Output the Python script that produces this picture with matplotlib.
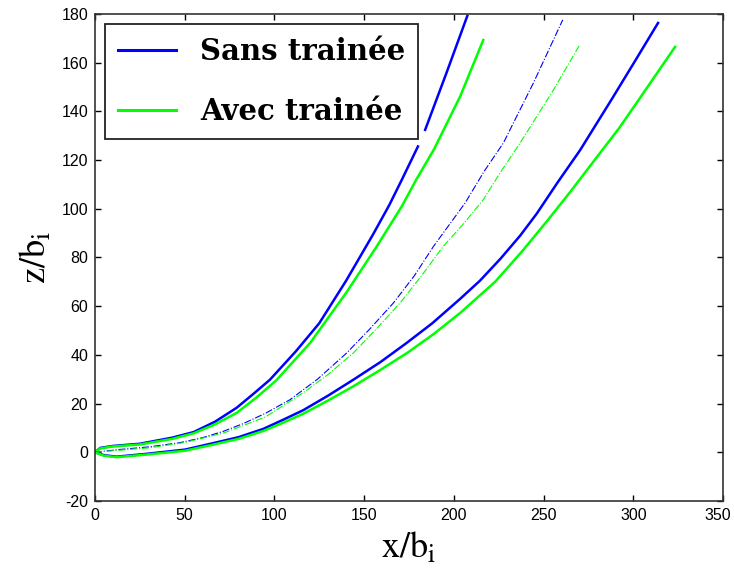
import matplotlib
matplotlib.use('Agg')
import matplotlib.pyplot as plt
import numpy as np

# trajectories (x/b_i, z/b_i)
# sans trainee (blue)
up_sans_x = [0, 3, 10, 25, 43, 55, 67, 79, 88, 97.5, 112, 125, 140, 155, 164, 171, 180, np.nan, 184, 196, 207.5]
up_sans_z = [0, 1.8, 2.6, 3.5, 6, 8.3, 12.6, 18.3, 23.8, 29.8, 41.5, 53, 70.5, 89.5, 101.5, 111.9, 125.6, np.nan, 132.4, 156, 179.2]
mid_sans_x = [0, 13, 30, 47, 60, 71.5, 82.7, 95, 108.7, 124, 140.3, 153, 166.3, 178, 188.6, 198, 206.2, 217, 227.6, 244.3, 260.7]
mid_sans_z = [0, 1.1, 2.2, 3.9, 6, 8.6, 11.8, 16, 21.6, 30, 40.8, 50.5, 61.3, 72.5, 84.5, 94, 102.3, 115.5, 127, 151.6, 177.6]
low_sans_x = [0, 5, 12, 28, 50.2, 65, 80, 93.8, 105, 116.1, 130, 144, 159, 173.7, 188, 203.5, 214.6, 226, 237, 246.2, 258, 270.3, 288, 300, 313.8]
low_sans_z = [0, -1.2, -1.8, -0.7, 1.1, 3.6, 6.2, 9.6, 13.4, 17.3, 23.3, 29.8, 37, 44.9, 53, 63, 70.5, 79.5, 89, 98, 111, 124, 145, 159.5, 176.3]

# avec trainee (green)
up_avec_x = [0, 3, 10, 25, 43, 55, 67, 79, 90, 101, 120, 140, 157, 171, 179, 189, 203.5, 216.4]
up_avec_z = [0, 1.6, 2.4, 3.2, 5.5, 7.8, 11.5, 16.2, 22.5, 29.5, 45, 65.5, 84.5, 101, 111.9, 124.5, 146.1, 169.3]
mid_avec_x = [0, 13, 30, 50, 72, 95, 116, 130, 144, 157, 170, 182, 194, 205, 216.4, 226, 236.9, 255.5, 269.8]
mid_avec_z = [0, 0.8, 1.8, 4, 8, 14.5, 24.4, 32, 40.8, 50.8, 61.3, 72.5, 84.5, 93.5, 103.7, 115, 127, 148.8, 166.9]
low_avec_x = [0, 5, 12, 28, 50, 65, 80, 94, 105, 116, 130, 144, 159, 174, 189, 203.5, 223, 238, 252, 266, 280, 292, 303, 323.3]
low_avec_z = [0, -1.4, -2, -1, 0.6, 3, 5.5, 8.8, 12.2, 15.8, 21.3, 27.1, 33.8, 40.8, 48.7, 57.2, 70, 82.5, 95, 108, 121.5, 133, 144.7, 166.5]

x_ticks = [0, 50, 100, 150, 200, 250, 300, 350]
x_ticklabels = ['0', '50', '100', '150', '200', '250', '300', '']  # '350' placed by hand below
z_ticks = [-20, 0, 20, 40, 60, 80, 100, 120, 140, 160, 180]

blue = '#0000ff'
green = '#00ff00'
tick_family = ['Liberation Sans', 'DejaVu Sans']

plt.rcParams['mathtext.fontset'] = 'stix'
plt.rcParams['axes.unicode_minus'] = False

fig = plt.figure(figsize=(7.34, 5.68), dpi=100)
ax = fig.add_axes([0.1294, 0.118, 0.8556, 0.8574])

ax.plot(up_sans_x, up_sans_z, color=blue, lw=1.8, label='Sans trainée')
ax.plot(up_avec_x, up_avec_z, color=green, lw=1.8, label='Avec trainée')
ax.plot(mid_sans_x, mid_sans_z, color=blue, lw=0.8, ls='-.')
ax.plot(mid_avec_x, mid_avec_z, color=green, lw=0.8, ls='-.')
ax.plot(low_sans_x, low_sans_z, color=blue, lw=1.8)
ax.plot(low_avec_x, low_avec_z, color=green, lw=1.8)

ax.set_xlim(0, 350)
ax.set_ylim(-20, 180)
ax.set_xticks(x_ticks)
ax.set_xticklabels(x_ticklabels, family=tick_family, fontsize=11.5)
ax.set_yticks(z_ticks)
ax.set_yticklabels([str(v) for v in z_ticks], family=tick_family, fontsize=11.5)

# last x label sits on the figure edge, so put it a few points inward
ax.annotate(str(x_ticks[-1]), xy=(x_ticks[-1], 0), xycoords=ax.get_xaxis_transform(),
            xytext=(-3.5, -5), textcoords='offset points', ha='center', va='top',
            family=tick_family, fontsize=11.5, annotation_clip=False)

ax.tick_params(direction='in', length=4.5, width=1, top=True, right=True, pad=5)
for s in ax.spines.values():
    s.set_linewidth(1.2)
    s.set_color('#333333')

ax.set_xlabel(r'$\mathrm{x/b_i}$', fontsize=26, labelpad=5)
ax.set_ylabel(r'$\mathrm{z/b_i}$', fontsize=26, labelpad=6)

leg = ax.legend(loc='upper left', bbox_to_anchor=(0.016, 0.979), borderaxespad=0,
                fancybox=False, framealpha=1, edgecolor='#222222',
                prop={'family': 'DejaVu Serif', 'weight': 'bold', 'size': 21},
                handlelength=2.0, handletextpad=0.8, labelspacing=1.05,
                borderpad=0.45)
leg.get_frame().set_linewidth(1.3)
for line in leg.get_lines():
    line.set_linewidth(2.2)

fig.savefig('out.png', dpi=100)
